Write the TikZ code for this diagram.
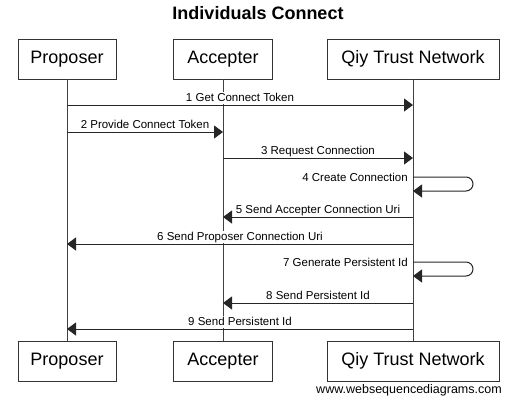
\documentclass[tikz,border=0pt]{standalone}
\usepackage{fontspec}
\setmainfont{Liberation Sans}
\usetikzlibrary{arrows.meta}
\begin{document}
\begin{tikzpicture}[x=1pt,y=-1pt,
 actor/.style={draw=black!80, line width=0.9pt, minimum height=40pt, inner sep=0pt, font=\fontsize{18}{20}\selectfont},
 life/.style={line width=1pt, draw=black!75},
 msg/.style={line width=1pt, draw=black!85, -{Triangle[length=9pt,width=13pt]}},
 lbl/.style={font=\fontsize{11.5}{13}\selectfont, fill=white, inner xsep=1pt, inner ysep=0.5pt, text depth=2.5pt, midway, above=0.5pt},
 lblr/.style={font=\fontsize{11.5}{13}\selectfont, anchor=base east, inner sep=0pt}]
\useasboundingbox (0,0) rectangle (523,402);
\node[font=\bfseries\fontsize{18}{20}\selectfont] (title) at (258,13) {Individuals Connect};
% actors top
\node[actor, minimum width=98pt] (pt) at (67,59) {Proposer};
\node[actor, minimum width=99pt] (at) at (223,59) {Accepter};
\node[actor, minimum width=172pt] (qt) at (413,59) {Qiy Trust Network};
% actors bottom
\node[actor, minimum width=98pt] (pb) at (67,361) {Proposer};
\node[actor, minimum width=99pt] (ab) at (223,361) {Accepter};
\node[actor, minimum width=172pt] (qb) at (413,361) {Qiy Trust Network};
% lifelines
\draw[life] (pt.south) -- (pb.north);
\draw[life] (at.south) -- (ab.north);
\draw[life] (qt.south) -- (qb.north);
% coordinates on lifelines
\foreach \n/\y in {1/105,2/132,3/158,4/177,4b/191,5/217,6/244,7/262,7b/276,8/303,9/329}{
  \coordinate (P\n) at (67,\y);
  \coordinate (A\n) at (223,\y);
  \coordinate (Q\n) at (413,\y);
}
% messages
\draw[msg] (P1) -- (Q1) node[lbl] {1 Get Connect Token};
\draw[msg] (P2) -- (A2) node[lbl] {2 Provide Connect Token};
\draw[msg] (A3) -- (Q3) node[lbl] {3 Request Connection};
\draw[msg, rounded corners=7pt] (Q4) -- ++(60,0) -- ++(0,14) -- (Q4b);
\node[lblr] (l4) at (408,181) {4 Create Connection};
\draw[msg] (Q5) -- (A5) node[lbl] {5 Send Accepter Connection Uri};
\draw[msg] (Q6) -- (P6) node[lbl] {6 Send Proposer Connection Uri};
\draw[msg, rounded corners=7pt] (Q7) -- ++(60,0) -- ++(0,14) -- (Q7b);
\node[lblr] (l7) at (408,266) {7 Generate Persistent Id};
\draw[msg] (Q8) -- (A8) node[lbl] {8 Send Persistent Id};
\draw[msg] (Q9) -- (P9) node[lbl] {9 Send Persistent Id};
\node[font=\fontsize{12.5}{14}\selectfont, inner sep=0pt] (web) at (409,390) {www.websequencediagrams.com};
\end{tikzpicture}
\end{document}
